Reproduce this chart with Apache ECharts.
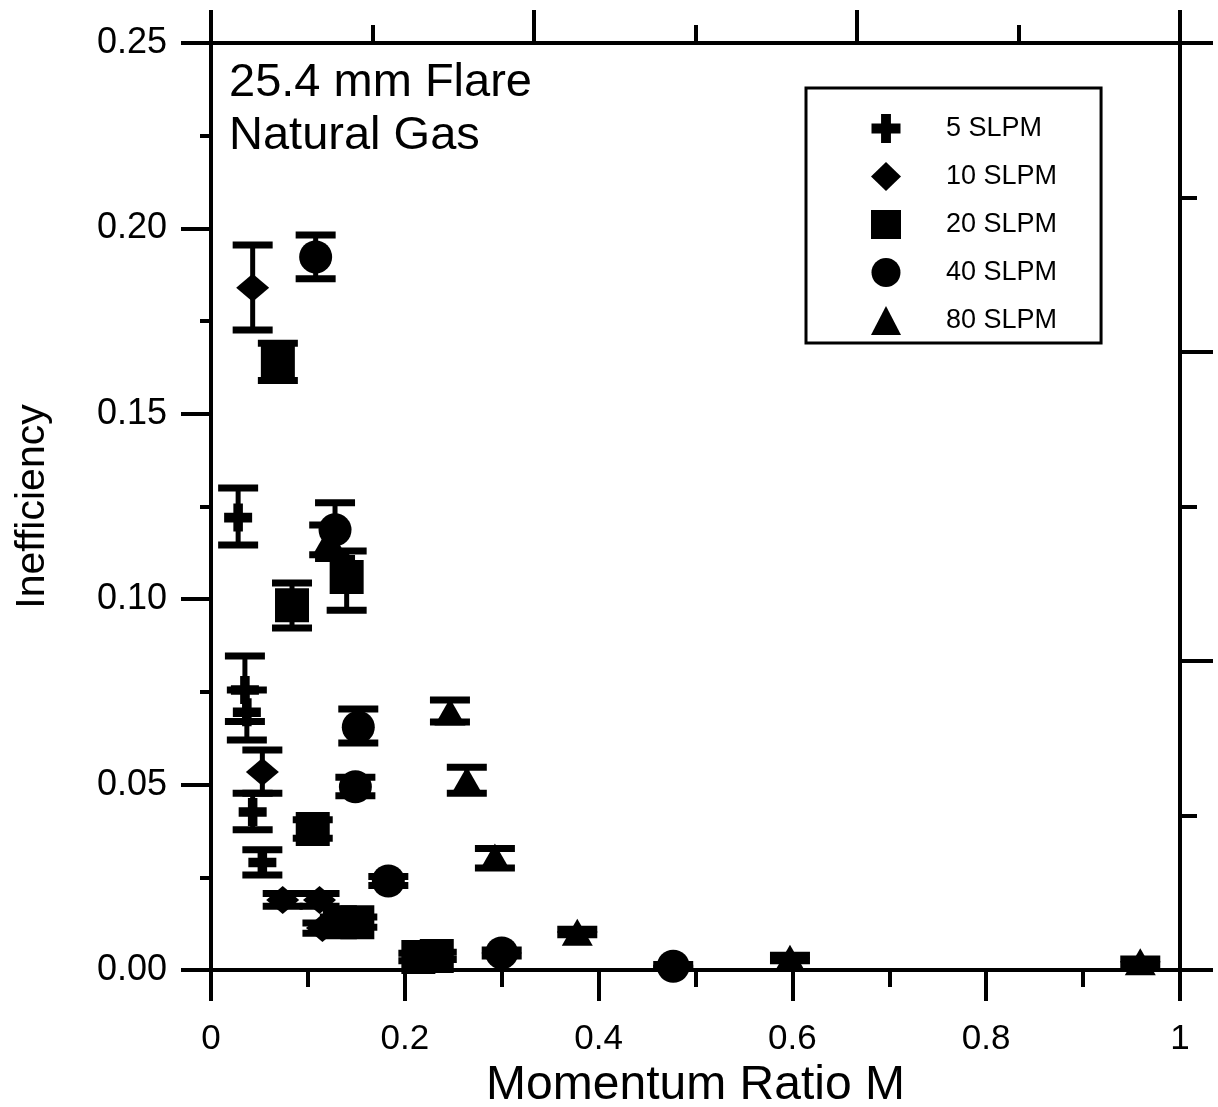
<!DOCTYPE html>
<html>
<head>
<meta charset="utf-8">
<script src="https://cdn.jsdelivr.net/npm/echarts@6/dist/echarts.min.js"></script>
<style>
  html, body { margin: 0; padding: 0; background: #fff; }
  #chart { width: 1218px; height: 1107px; }
</style>
</head>
<body>
<div id="chart"></div>
<script>
// momentum ratio M, inefficiency and error bar limits, one set per flow rate
const m5 = [0.028, 0.035, 0.037, 0.043, 0.053];
const ineff5 = [0.122, 0.0755, 0.0695, 0.0426, 0.029];
const lo5 = [0.1146, 0.067, 0.062, 0.0378, 0.0256];
const hi5 = [0.130, 0.0847, 0.0755, 0.0477, 0.0324];

const m10 = [0.043, 0.053, 0.074, 0.112, 0.115];
const ineff10 = [0.184, 0.0534, 0.0189, 0.0189, 0.0113];
const lo10 = [0.1726, 0.0477, 0.0172, 0.0172, 0.0099];
const hi10 = [0.1955, 0.0593, 0.0206, 0.0206, 0.0127];

const m20 = [0.069, 0.0836, 0.140, 0.105, 0.133, 0.151, 0.214, 0.233];
const ineff20 = [0.164, 0.0984, 0.106, 0.038, 0.0129, 0.0129, 0.0035, 0.0038];
const lo20 = [0.159, 0.0922, 0.097, 0.0355, 0.0115, 0.0115, 0.0025, 0.0028];
const hi20 = [0.169, 0.1044, 0.113, 0.0405, 0.0143, 0.0143, 0.0045, 0.0048];

const m40 = [0.108, 0.128, 0.152, 0.149, 0.183, 0.300, 0.477];
const ineff40 = [0.1923, 0.1187, 0.0655, 0.0494, 0.024, 0.0046, 0.001];
const lo40 = [0.1864, 0.111, 0.0612, 0.047, 0.0228, 0.0038, 0.0005];
const hi40 = [0.1982, 0.126, 0.0704, 0.052, 0.0252, 0.0054, 0.0015];

const m80 = [0.122, 0.2466, 0.264, 0.293, 0.378, 0.5975, 0.959];
const ineff80 = [0.116, 0.0696, 0.0512, 0.0305, 0.0102, 0.0032, 0.0022];
const lo80 = [0.112, 0.0669, 0.0477, 0.0275, 0.0095, 0.0025, 0.0015];
const hi80 = [0.120, 0.0728, 0.0547, 0.0328, 0.0110, 0.0040, 0.0030];

const groups = [
  { name: '5 SLPM', m: m5, v: ineff5, lo: lo5, hi: hi5,
    symbol: 'path://M33,0H67V33H100V67H67V100H33V67H0V33H33Z', size: 28 },
  { name: '10 SLPM', m: m10, v: ineff10, lo: lo10, hi: hi10, symbol: 'diamond', size: [33, 28] },
  { name: '20 SLPM', m: m20, v: ineff20, lo: lo20, hi: hi20, symbol: 'rect', size: 34 },
  { name: '40 SLPM', m: m40, v: ineff40, lo: lo40, hi: hi40, symbol: 'circle', size: 33 },
  { name: '80 SLPM', m: m80, v: ineff80, lo: lo80, hi: hi80, symbol: 'triangle', size: [31, 27] },
];

const font = 'Liberation Sans, Arial, sans-serif';

function renderErr(params, api) {
  const top = api.coord([api.value(0), api.value(2)]);
  const bot = api.coord([api.value(0), api.value(1)]);
  const half = 20;
  const line = (x1, y1, x2, y2, w) => ({
    type: 'line',
    shape: { x1: x1, y1: y1, x2: x2, y2: y2 },
    style: { stroke: '#000', lineWidth: w },
  });
  return {
    type: 'group',
    children: [
      line(top[0], top[1], bot[0], bot[1], 5),
      line(top[0] - half, top[1], top[0] + half, top[1], 7),
      line(bot[0] - half, bot[1], bot[0] + half, bot[1], 7),
    ],
  };
}

const series = [];
groups.forEach((g) => {
  series.push({
    type: 'custom',
    renderItem: renderErr,
    encode: { x: 0, y: [1, 2] },
    data: g.m.map((x, i) => [x, g.lo[i], g.hi[i]]),
    z: 2,
    silent: true,
  });
});
groups.forEach((g) => {
  series.push({
    name: g.name,
    type: 'scatter',
    symbol: g.symbol,
    symbolSize: g.size,
    itemStyle: { color: '#000', opacity: 1 },
    data: g.m.map((x, i) => [x, g.v[i]]),
    z: 3,
  });
});

const chart = echarts.init(document.getElementById('chart'));
chart.setOption({
  animation: false,
  backgroundColor: '#fff',
  title: {
    text: '25.4 mm Flare\nNatural Gas',
    left: 224,
    top: 52,
    textStyle: { fontFamily: font, fontSize: 47, fontWeight: 'normal', color: '#000', lineHeight: 53 },
  },
  legend: {
    orient: 'vertical',
    left: 806,
    top: 88,
    padding: [26, 44, 8, 65],
    itemWidth: 30,
    itemHeight: 29,
    itemGap: 19,
    borderColor: '#000',
    borderWidth: 3,
    selectedMode: false,
    data: groups.map((g) => g.name),
    textStyle: { fontFamily: font, fontSize: 27, color: '#000', padding: [0, 0, 0, 40] },
  },
  grid: { left: 211, right: 38, top: 43, bottom: 137, outerBoundsMode: 'none' },
  xAxis: [
    {
      type: 'value',
      min: 0,
      max: 1,
      interval: 0.2,
      name: 'Momentum Ratio M',
      nameLocation: 'middle',
      nameGap: 86,
      nameTextStyle: { fontFamily: font, fontSize: 48, color: '#000' },
      axisLine: { onZero: false, lineStyle: { color: '#000', width: 4 } },
      axisTick: { length: 31, lineStyle: { width: 4 } },
      minorTick: { show: true, splitNumber: 2, length: 17, lineStyle: { color: '#000', width: 4 } },
      axisLabel: { margin: 52, fontFamily: font, fontSize: 35, color: '#000' },
      splitLine: { show: false },
    },
    {
      type: 'value',
      position: 'top',
      min: 0,
      max: 3,
      interval: 1,
      axisLine: { onZero: false, lineStyle: { color: '#000', width: 4 } },
      axisTick: { length: 33, lineStyle: { width: 4 } },
      minorTick: { show: true, splitNumber: 2, length: 18, lineStyle: { color: '#000', width: 4 } },
      axisLabel: { show: false },
      splitLine: { show: false },
    },
  ],
  yAxis: [
    {
      type: 'value',
      min: 0,
      max: 0.25,
      interval: 0.05,
      name: 'Inefficiency',
      nameLocation: 'middle',
      nameGap: 158,
      nameTextStyle: { fontFamily: font, fontSize: 41, color: '#000' },
      axisLine: { onZero: false, lineStyle: { color: '#000', width: 4 } },
      axisTick: { length: 30, lineStyle: { width: 4 } },
      minorTick: { show: true, splitNumber: 2, length: 11, lineStyle: { color: '#000', width: 4 } },
      axisLabel: {
        margin: 44,
        fontFamily: font,
        fontSize: 36,
        color: '#000',
        formatter: (v) => v.toFixed(2),
      },
      splitLine: { show: false },
    },
    {
      type: 'value',
      position: 'right',
      min: 0,
      max: 3,
      interval: 1,
      axisLine: { onZero: false, lineStyle: { color: '#000', width: 4 } },
      axisTick: { length: 33, lineStyle: { width: 4 } },
      minorTick: { show: true, splitNumber: 2, length: 17, lineStyle: { color: '#000', width: 4 } },
      axisLabel: { show: false },
      splitLine: { show: false },
    },
  ],
  series: series,
});
</script>
</body>
</html>
